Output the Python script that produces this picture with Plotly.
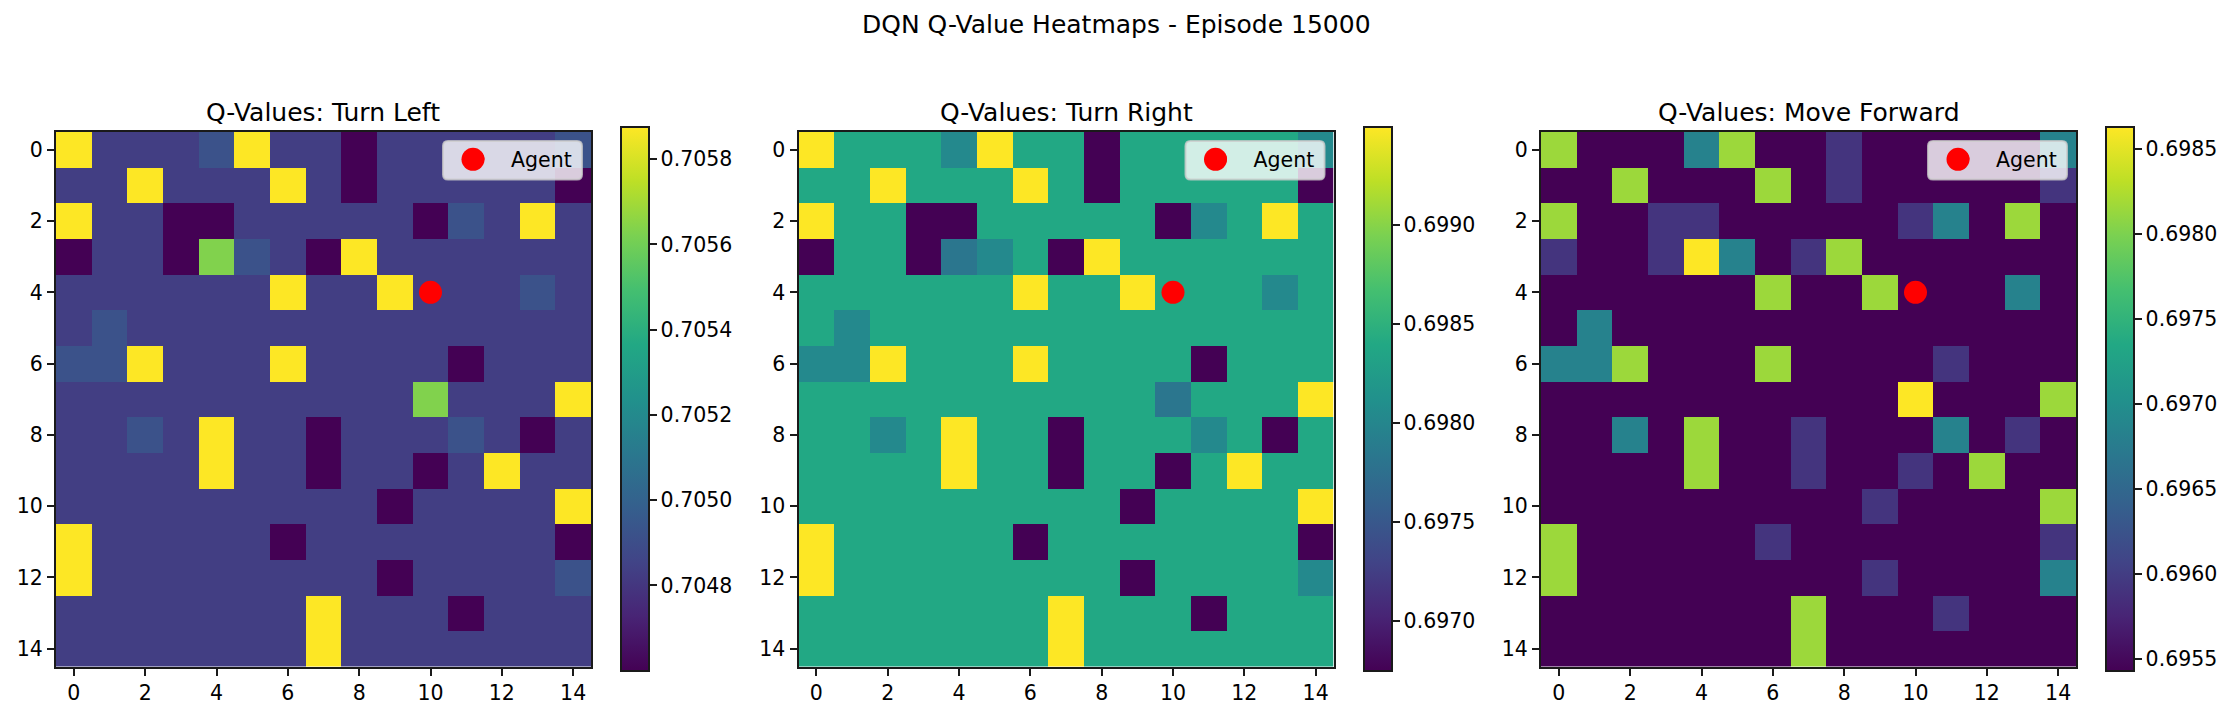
import plotly.graph_objects as go

W, H = 2235, 716

# Cell classes (same pattern in all three panels)
GRID = [
    "YBBBLYBBDBBBBBL",
    "BBYBBBYBDBBBBBD",
    "YBBDDBBBBBDLBYB",
    "DBBDGLBDYBBBBBB",
    "BBBBBBYBBYBBBLB",
    "BLBBBBBBBBBBBBB",
    "LLYBBBYBBBBDBBB",
    "BBBBBBBBBBGBBBY",
    "BBLBYBBDBBBLBDB",
    "BBBBYBBDBBDBYBB",
    "BBBBBBBBBDBBBBY",
    "YBBBBBDBBBBBBBD",
    "YBBBBBBBBDBBBBL",
    "BBBBBBBYBBBDBBB",
    "BBBBBBBYBBBBBBB",
]
LEFT_VALUES = {"Y": 0.705876, "D": 0.70460, "B": 0.70483, "L": 0.70492, "G": 0.705634}
RIGHT_VALUES = {"Y": 0.699495, "D": 0.696748, "B": 0.698396, "L": 0.698039, "G": 0.69782}
FORWARD_VALUES = {"Y": 0.69815, "D": 0.69591, "B": 0.69543, "L": 0.69684, "G": 0.69863}

PANEL_TITLES = ["Q-Values: Turn Left", "Q-Values: Turn Right", "Q-Values: Move Forward"]
AGENT_X = [10]
AGENT_Y = [4]
LEFT_TICKS = [0.7048, 0.7050, 0.7052, 0.7054, 0.7056, 0.7058]
RIGHT_TICKS = [0.6970, 0.6975, 0.6980, 0.6985, 0.6990]
FORWARD_TICKS = [0.6955, 0.6960, 0.6965, 0.6970, 0.6975, 0.6980, 0.6985]
AXIS_TICKS = [0, 2, 4, 6, 8, 10, 12, 14]
CELLS = list(range(15))

VIRIDIS = ["#440154", "#482475", "#414487", "#355f8d", "#2a788e", "#21918c",
           "#22a884", "#44bf70", "#7ad151", "#bddf26", "#fde725"]
SCALE = [[i / 10, c] for i, c in enumerate(VIRIDIS)]

FONT = "DejaVu Sans"
INK = "#1a1a1a"
TICK_SIZE = 20.5
PANEL_LEFTS = [56, 798.5, 1541]
PANEL_SIZE = 535
PANEL_TOP, PANEL_BOTTOM = 132, 666.5
BAR_LEFTS = [621, 1363.5, 2106]
BAR_W = 28
BAR_TOP, BAR_BOTTOM = 126.7, 670.7

panels = [(LEFT_VALUES, LEFT_TICKS), (RIGHT_VALUES, RIGHT_TICKS), (FORWARD_VALUES, FORWARD_TICKS)]

fig = go.Figure()
layout = {}
annotations = []
shapes = []

for i, (levels, ticks) in enumerate(panels):
    n = "" if i == 0 else str(i + 1)
    left = PANEL_LEFTS[i]
    z = [[levels[c] for c in row] for row in GRID]
    fig.add_trace(go.Heatmap(
        z=z, x=CELLS, y=CELLS, xaxis="x" + n, yaxis="y" + n,
        colorscale=SCALE, zmin=min(levels.values()), zmax=max(levels.values()), showlegend=False,
        colorbar=dict(
            x=BAR_LEFTS[i] / W, xanchor="left", xpad=0, ypad=0,
            y=1 - BAR_BOTTOM / H, yanchor="bottom",
            len=(BAR_BOTTOM - BAR_TOP) / H, lenmode="fraction",
            thickness=BAR_W, thicknessmode="pixels",
            outlinewidth=2, outlinecolor=INK,
            ticks="outside", ticklen=7, tickwidth=1.7, tickcolor=INK,
            tickvals=ticks, tickformat=".4f", tickprefix="\u00a0",
            tickfont=dict(family=FONT, size=TICK_SIZE, color="black"),
        ),
    ))
    fig.add_trace(go.Scatter(
        x=AGENT_X, y=AGENT_Y, xaxis="x" + n, yaxis="y" + n, mode="markers", name="Agent",
        marker=dict(color="red", size=23, line=dict(width=0)),
        showlegend=True, legend="legend" + n,
    ))
    axis = dict(
        showline=True, mirror=True, linewidth=2, linecolor=INK, showgrid=False, zeroline=False,
        ticks="outside", ticklen=7, tickwidth=1.7, tickcolor=INK, tickvals=AXIS_TICKS,
        tickfont=dict(family=FONT, size=TICK_SIZE, color="black"),
    )
    layout["xaxis" + n] = dict(axis, domain=[left / W, (left + PANEL_SIZE) / W],
                               range=[-0.5, 14.5], anchor="y" + n)
    layout["yaxis" + n] = dict(axis, domain=[1 - PANEL_BOTTOM / H, 1 - PANEL_TOP / H],
                               range=[14.5, -0.5], anchor="x" + n)
    annotations.append(dict(
        text=PANEL_TITLES[i], xref="paper", yref="paper",
        x=(left + PANEL_SIZE / 2) / W, y=1 - 112 / H, xanchor="center", yanchor="middle",
        showarrow=False, font=dict(family=FONT, size=25, color="black"),
    ))
    # legend box with rounded corners and a full-size glyph behind the legend's own marker
    bx0, bx1 = left + 387, left + 526
    by0, by1 = 141, 179.5
    r = 5
    px = lambda v: v / W
    py = lambda v: 1 - v / H
    path = (f"M {px(bx0 + r)} {py(by0)} L {px(bx1 - r)} {py(by0)} "
            f"Q {px(bx1)} {py(by0)} {px(bx1)} {py(by0 + r)} L {px(bx1)} {py(by1 - r)} "
            f"Q {px(bx1)} {py(by1)} {px(bx1 - r)} {py(by1)} L {px(bx0 + r)} {py(by1)} "
            f"Q {px(bx0)} {py(by1)} {px(bx0)} {py(by1 - r)} L {px(bx0)} {py(by0 + r)} "
            f"Q {px(bx0)} {py(by0)} {px(bx0 + r)} {py(by0)} Z")
    shapes.append(dict(type="path", path=path, xref="paper", yref="paper", layer="above",
                       fillcolor="rgba(255,255,255,0.8)",
                       line=dict(color="rgba(204,204,204,0.8)", width=2)))
    shapes.append(dict(type="circle", xref="paper", yref="paper", layer="above",
                       xsizemode="pixel", ysizemode="pixel",
                       xanchor=px(left + 417), yanchor=py(159.3),
                       x0=-11.5, x1=11.5, y0=-11.5, y1=11.5,
                       fillcolor="red", line=dict(width=0)))
    layout["legend" + n] = dict(
        x=(bx0 - 1) / W, y=py(by0 - 2), xanchor="left", yanchor="top",
        bgcolor="rgba(0,0,0,0)", borderwidth=0, itemwidth=59,
        font=dict(family=FONT, size=TICK_SIZE, color="black"),
    )

annotations.append(dict(
    text="DQN Q-Value Heatmaps - Episode 15000", xref="paper", yref="paper",
    x=1116 / W, y=1 - 25 / H, xanchor="center", yanchor="middle", showarrow=False,
    font=dict(family=FONT, size=25, color="black"),
))

fig.update_layout(width=W, height=H, margin=dict(l=0, r=0, t=0, b=0), autosize=False,
                  paper_bgcolor="white", plot_bgcolor="white",
                  annotations=annotations, shapes=shapes, **layout)
fig.write_html("out.html", post_script="document.body.style.margin='0';",
               config={"displayModeBar": False})
